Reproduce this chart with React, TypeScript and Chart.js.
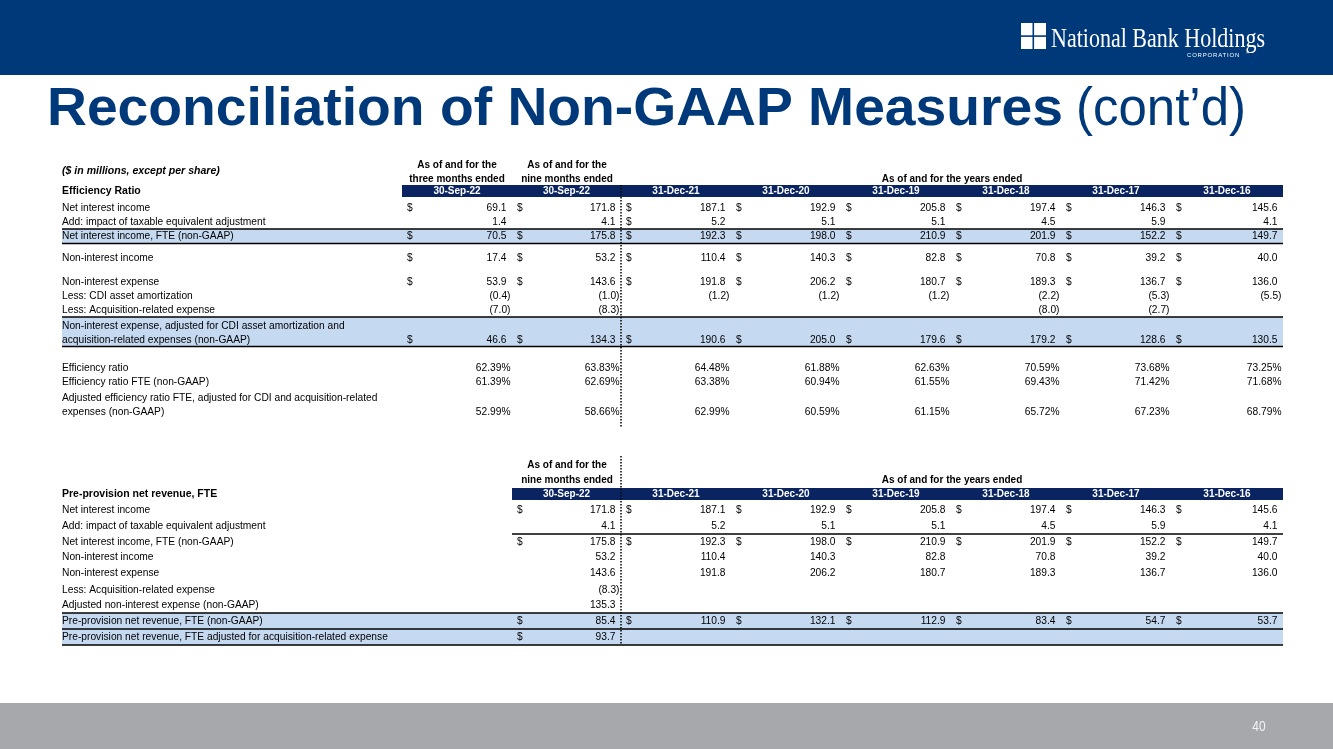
import React, { useEffect, useRef } from "react";
import { Chart, registerables } from "chart.js";

Chart.register(...registerables);

// ---------------- DATA ----------------
const pageTitle = "Reconciliation of Non-GAAP Measures";
const pageTitleSuffix = "(cont\u2019d)";
const unitNote = "($ in millions, except per share)";
const logoName = "National Bank Holdings";
const logoSub = "CORPORATION";
const pageNumber = "40";

const periods1 = ["30-Sep-22", "30-Sep-22", "31-Dec-21", "31-Dec-20", "31-Dec-19", "31-Dec-18", "31-Dec-17", "31-Dec-16"];
const periods2 = ["30-Sep-22", "31-Dec-21", "31-Dec-20", "31-Dec-19", "31-Dec-18", "31-Dec-17", "31-Dec-16"];

const effLabels = [
  "Net interest income",
  "Add: impact of taxable equivalent adjustment",
  "Net interest income, FTE (non-GAAP)",
  "Non-interest income",
  "Non-interest expense",
  "Less: CDI asset amortization",
  "Less: Acquisition-related expense",
  "Non-interest expense, adjusted for CDI asset amortization and|acquisition-related expenses (non-GAAP)",
  "Efficiency ratio",
  "Efficiency ratio FTE (non-GAAP)",
  "Adjusted efficiency ratio FTE, adjusted for CDI and acquisition-related|expenses (non-GAAP)",
];

const netInterestIncome = [69.1, 171.8, 187.1, 192.9, 205.8, 197.4, 146.3, 145.6];
const taxEquivAdj = [1.4, 4.1, 5.2, 5.1, 5.1, 4.5, 5.9, 4.1];
const netInterestIncomeFTE = [70.5, 175.8, 192.3, 198.0, 210.9, 201.9, 152.2, 149.7];
const nonInterestIncome = [17.4, 53.2, 110.4, 140.3, 82.8, 70.8, 39.2, 40.0];
const nonInterestExpense = [53.9, 143.6, 191.8, 206.2, 180.7, 189.3, 136.7, 136.0];
const cdiAmortization = [-0.4, -1.0, -1.2, -1.2, -1.2, -2.2, -5.3, -5.5];
const acquisitionExpense = [-7.0, -8.3, null, null, null, -8.0, -2.7, null];
const adjNonInterestExpense = [46.6, 134.3, 190.6, 205.0, 179.6, 179.2, 128.6, 130.5];
const efficiencyRatio = [62.39, 63.83, 64.48, 61.88, 62.63, 70.59, 73.68, 73.25];
const efficiencyRatioFTE = [61.39, 62.69, 63.38, 60.94, 61.55, 69.43, 71.42, 71.68];
const adjEfficiencyRatio = [52.99, 58.66, 62.99, 60.59, 61.15, 65.72, 67.23, 68.79];

const ppnrLabels = [
  "Net interest income",
  "Add: impact of taxable equivalent adjustment",
  "Net interest income, FTE (non-GAAP)",
  "Non-interest income",
  "Non-interest expense",
  "Less: Acquisition-related expense",
  "Adjusted non-interest expense (non-GAAP)",
  "Pre-provision net revenue, FTE (non-GAAP)",
  "Pre-provision net revenue, FTE adjusted for acquisition-related expense",
];
const ppnrNII = [171.8, 187.1, 192.9, 205.8, 197.4, 146.3, 145.6];
const ppnrTaxAdj = [4.1, 5.2, 5.1, 5.1, 4.5, 5.9, 4.1];
const ppnrNIIFTE = [175.8, 192.3, 198.0, 210.9, 201.9, 152.2, 149.7];
const ppnrNonIntIncome = [53.2, 110.4, 140.3, 82.8, 70.8, 39.2, 40.0];
const ppnrNonIntExpense = [143.6, 191.8, 206.2, 180.7, 189.3, 136.7, 136.0];
const ppnrAcqExpense = [-8.3, null, null, null, null, null, null];
const ppnrAdjExpense = [135.3, null, null, null, null, null, null];
const ppnr = [85.4, 110.9, 132.1, 112.9, 83.4, 54.7, 53.7];
const ppnrAdj = [93.7, null, null, null, null, null, null];

// ---------------- LAYOUT (pixel space of the page) ----------------
const W = 1333;
const H = 749;
const NAVY = "#00397A";
const BAR = "#0A2461";
const HILITE = "#C5D9F1";
const FONT = '"Liberation Sans", Arial, sans-serif';
const BODY = 11;
const BODY_SX = 0.93;

const cellEdges1 = [402, 512, 621, 731, 841, 951, 1061, 1171, 1283];
const cellEdges2 = cellEdges1.slice(1);

function fmt(v: number | null, pct: boolean) {
  if (v === null || v === undefined) return "";
  if (pct) return v.toFixed(2) + "%";
  if (v < 0) return "(" + Math.abs(v).toFixed(1) + ")";
  return v.toFixed(1);
}

const tablePlugin = {
  id: "tablePlugin",
  afterDraw(chart: any) {
    const ctx: CanvasRenderingContext2D = chart.ctx;
    const xs = chart.scales.x;
    const ys = chart.scales.y;
    const px = (v: number) => xs.getPixelForValue(v);
    const py = (v: number) => ys.getPixelForValue(v);

    const text = (
      s: string, x: number, y: number, align: CanvasTextAlign,
      size: number, weight = "normal", color = "#000", sx = 1, style = "normal"
    ) => {
      ctx.save();
      ctx.font = `${style} ${weight} ${size}px ${FONT}`;
      ctx.fillStyle = color;
      ctx.textBaseline = "middle";
      ctx.textAlign = align;
      ctx.translate(px(x), py(y));
      ctx.scale(sx, 1);
      ctx.fillText(s, 0, 0);
      ctx.restore();
    };
    const rect = (x0: number, y0: number, x1: number, y1: number, c: string) => {
      ctx.fillStyle = c;
      ctx.fillRect(px(x0), py(y0), px(x1) - px(x0), py(y1) - py(y0));
    };
    const hline = (x0: number, x1: number, y: number, w = 1.5) => {
      ctx.save();
      ctx.strokeStyle = "#000";
      ctx.lineWidth = w;
      ctx.beginPath();
      ctx.moveTo(px(x0), py(y));
      ctx.lineTo(px(x1), py(y));
      ctx.stroke();
      ctx.restore();
    };
    const dotted = (x: number, y0: number, y1: number) => {
      ctx.save();
      ctx.strokeStyle = "#000";
      ctx.lineWidth = 1.5;
      ctx.setLineDash([1.5, 1.5]);
      ctx.beginPath();
      ctx.moveTo(px(x), py(y0));
      ctx.lineTo(px(x), py(y1));
      ctx.stroke();
      ctx.restore();
    };

    // background
    rect(0, 0, W, H, "#fff");
    // header band
    rect(0, 0, W, 75, NAVY);
    // footer band
    rect(0, 703, W, H, "#A7A8AC");
    text(pageNumber, 1259, 726.5, "center", 15, "normal", "#F4F4F4", 0.8);

    // logo
    ctx.fillStyle = "#fff";
    ctx.fillRect(px(1021), py(23), 25, 26);
    ctx.fillStyle = NAVY;
    ctx.fillRect(px(1032.5), py(23), 1.6, 26);
    ctx.fillRect(px(1021), py(35.3), 25, 1.6);
    ctx.save();
    ctx.font = `normal 27px "Liberation Serif", "DejaVu Serif", serif`;
    const lw = ctx.measureText(logoName).width;
    ctx.fillStyle = "#fff";
    ctx.textBaseline = "alphabetic";
    ctx.translate(px(1051), py(47));
    ctx.scale(214 / lw, 1);
    ctx.fillText(logoName, 0, 0);
    ctx.restore();
    ctx.save();
    ctx.font = `normal 6px ${FONT}`;
    ctx.fillStyle = "#fff";
    ctx.textBaseline = "middle";
    (ctx as any).letterSpacing = "0.8px";
    ctx.fillText(logoSub, px(1187), py(55.5));
    ctx.font = `normal 4px ${FONT}`;
    ctx.fillText("\u00AE", px(1246), py(53));
    ctx.restore();

    // title
    ctx.save();
    ctx.textBaseline = "alphabetic";
    ctx.fillStyle = NAVY;
    ctx.font = `bold 54px ${FONT}`;
    const tw = ctx.measureText(pageTitle).width;
    ctx.translate(px(47), py(125));
    ctx.save();
    ctx.scale(1016 / tw, 1);
    ctx.fillText(pageTitle, 0, 0);
    ctx.restore();
    ctx.font = `normal 54px ${FONT}`;
    const sw = ctx.measureText(pageTitleSuffix).width;
    ctx.translate(1029, 0);
    ctx.scale(170 / sw, 1);
    ctx.fillText(pageTitleSuffix, 0, 0);
    ctx.restore();

    const drawValues = (
      vals: (number | null)[], edges: number[], y: number, pct: boolean, dollars: boolean[] | boolean
    ) => {
      vals.forEach((v, i) => {
        const l = edges[i];
        const r = edges[i + 1];
        const s = fmt(v, pct);
        if (!s) return;
        const showD = Array.isArray(dollars) ? dollars[i] : dollars;
        if (showD) text("$", l + 5, y, "left", BODY, "normal", "#000", BODY_SX);
        const closing = pct || (v as number) < 0;
        text(s, closing ? r - 1.5 : r - 5.5, y, "right", BODY, "normal", "#000", BODY_SX);
      });
    };

    // ===== Table 1 =====
    text(unitNote, 62, 171, "left", 11, "bold", "#000", 0.96, "italic");
    text("As of and for the", 457, 165, "center", 10, "bold");
    text("three months ended", 457, 179, "center", 10, "bold");
    text("As of and for the", 567, 165, "center", 10, "bold");
    text("nine months ended", 567, 179, "center", 10, "bold");
    text("As of and for the years ended", (cellEdges1[2] + cellEdges1[8]) / 2, 179, "center", 10, "bold");
    rect(cellEdges1[0], 185, cellEdges1[8], 197, BAR);
    text("Efficiency Ratio", 62, 191.5, "left", 10.5, "bold");
    periods1.forEach((p, i) => {
      text(p, (cellEdges1[i] + cellEdges1[i + 1]) / 2, 191.5, "center", 10, "bold", "#fff");
    });

    // highlights
    rect(62, 229, 1283, 243, HILITE);
    rect(62, 317, 1283, 346.5, HILITE);
    hline(62, 1283, 229);
    hline(62, 1283, 243.5);
    hline(62, 1283, 317);
    hline(62, 1283, 346.5);

    const rowY1 = [208, 222, 236, 258, 282, 296, 310, 340, 368, 382, 412];
    const rowVals1 = [
      netInterestIncome, taxEquivAdj, netInterestIncomeFTE, nonInterestIncome, nonInterestExpense,
      cdiAmortization, acquisitionExpense, adjNonInterestExpense, efficiencyRatio, efficiencyRatioFTE, adjEfficiencyRatio,
    ];
    const dollarRule1: (boolean[] | boolean)[] = [
      true, [false, false, true, false, false, false, false, false], true, true, true, false, false, true, false, false, false,
    ];
    effLabels.forEach((lab, k) => {
      const parts = lab.split("|");
      if (parts.length === 2) {
        text(parts[0], 62, rowY1[k] - 14.5, "left", BODY, "normal", "#000", BODY_SX);
        text(parts[1], 62, rowY1[k], "left", BODY, "normal", "#000", BODY_SX);
      } else {
        text(lab, 62, rowY1[k], "left", BODY, "normal", "#000", BODY_SX);
      }
      drawValues(rowVals1[k], cellEdges1, rowY1[k], k >= 8, dollarRule1[k]);
    });
    dotted(621, 185, 427);

    // ===== Table 2 =====
    text("As of and for the", 567, 465, "center", 10, "bold");
    text("nine months ended", 567, 480, "center", 10, "bold");
    text("As of and for the years ended", (cellEdges2[1] + cellEdges2[7]) / 2, 480, "center", 10, "bold");
    rect(cellEdges2[0], 488, cellEdges2[7], 500, BAR);
    text("Pre-provision net revenue, FTE", 62, 494.5, "left", 10.5, "bold");
    periods2.forEach((p, i) => {
      text(p, (cellEdges2[i] + cellEdges2[i + 1]) / 2, 494.5, "center", 10, "bold", "#fff");
    });
    rect(62, 613, 1283, 629, HILITE);
    rect(62, 629, 1283, 645, HILITE);
    hline(cellEdges2[0], 1283, 534);
    hline(62, 1283, 613);
    hline(62, 1283, 629);
    hline(62, 1283, 645);

    const rowY2 = [510, 526, 542, 557, 573, 590, 605, 621, 637];
    const rowVals2 = [ppnrNII, ppnrTaxAdj, ppnrNIIFTE, ppnrNonIntIncome, ppnrNonIntExpense, ppnrAcqExpense, ppnrAdjExpense, ppnr, ppnrAdj];
    const dollarRule2 = [true, false, true, false, false, false, false, true, true];
    ppnrLabels.forEach((lab, k) => {
      text(lab, 62, rowY2[k], "left", BODY, "normal", "#000", BODY_SX);
      drawValues(rowVals2[k], cellEdges2, rowY2[k], false, dollarRule2[k]);
    });
    dotted(621, 456, 645);
  },
};

export default function App() {
  const ref = useRef<HTMLCanvasElement | null>(null);
  useEffect(() => {
    if (!ref.current) return;
    const chart = new Chart(ref.current, {
      type: "scatter",
      data: { datasets: [] },
      options: {
        animation: false,
        responsive: false,
        maintainAspectRatio: false,
        layout: { padding: 0 },
        plugins: { legend: { display: false }, tooltip: { enabled: false }, title: { display: false } },
        scales: {
          x: { type: "linear", min: 0, max: W, display: false },
          y: { type: "linear", min: 0, max: H, reverse: true, display: false },
        },
      },
      plugins: [tablePlugin],
    });
    return () => chart.destroy();
  }, []);
  return (
    <div style={{ position: "absolute", left: 0, top: 0, width: W, height: H }}>
      <canvas ref={ref} width={W} height={H} style={{ display: "block", width: W, height: H }} />
    </div>
  );
}
